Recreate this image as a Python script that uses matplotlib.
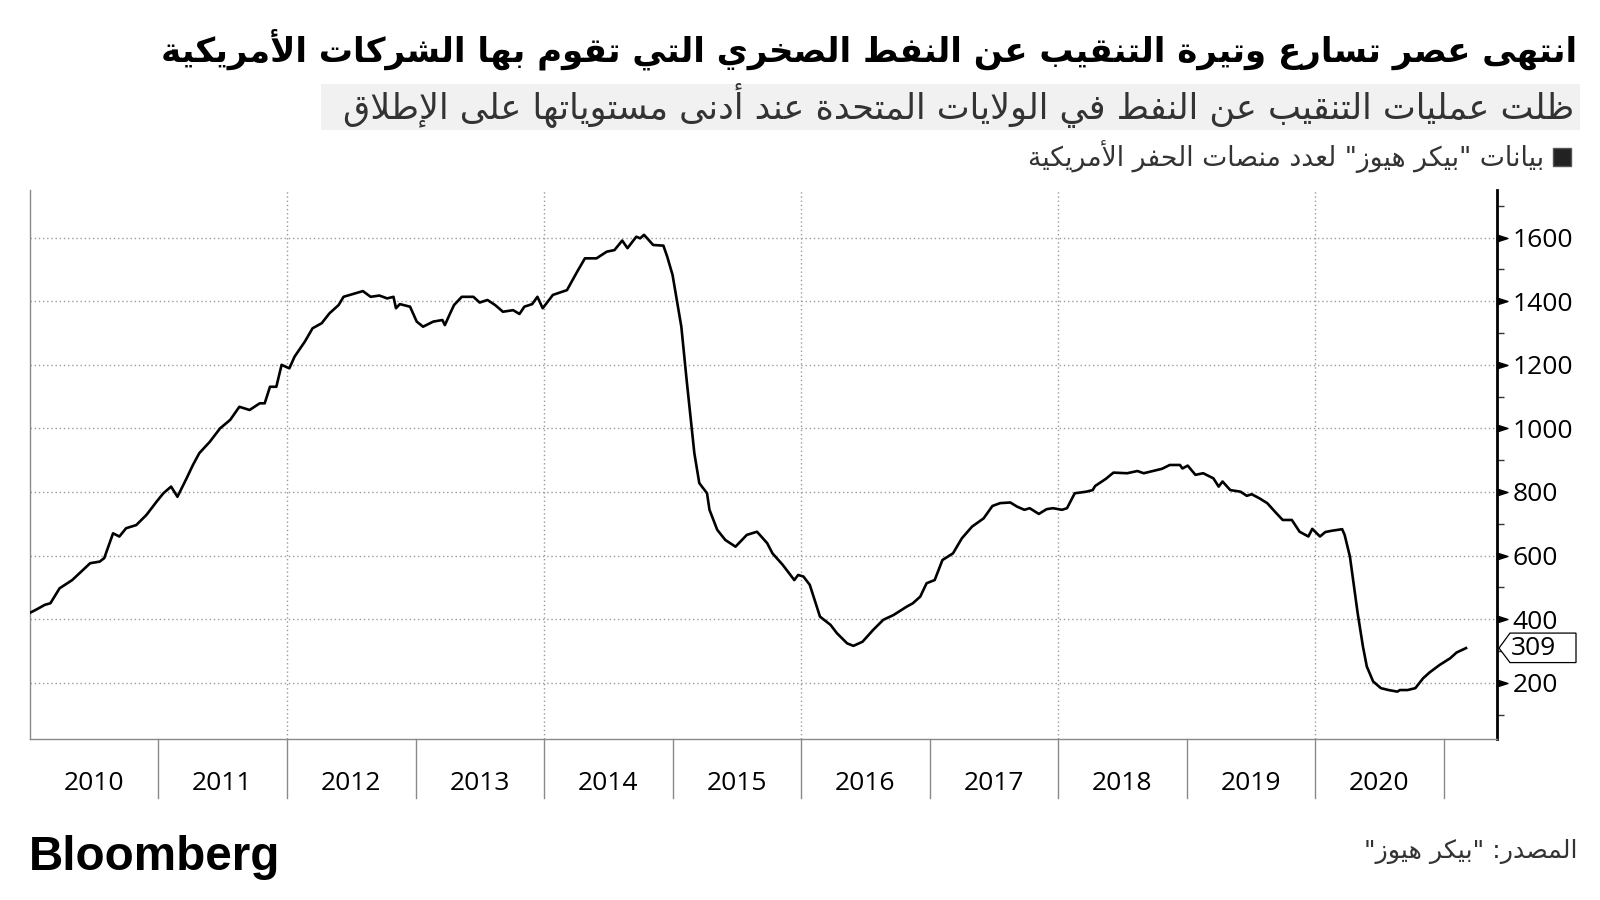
import matplotlib
matplotlib.use("Agg")
import matplotlib.pyplot as plt
import matplotlib.transforms as mtransforms
from matplotlib.patches import Polygon, Rectangle
from matplotlib.path import Path
import pandas as pd

# ---------------- data ----------------
dates = [
    "2010-01-01", "2010-01-22", "2010-02-12", "2010-02-28", "2010-03-26", "2010-05-01", "2010-05-27",
    "2010-06-21", "2010-07-18", "2010-07-31", "2010-08-25", "2010-09-12", "2010-10-01", "2010-10-30",
    "2010-11-28", "2010-12-27", "2011-01-15", "2011-02-06", "2011-02-24", "2011-03-22", "2011-04-09",
    "2011-04-27", "2011-05-27", "2011-06-25", "2011-07-24", "2011-08-19", "2011-09-17", "2011-10-16",
    "2011-10-30", "2011-11-14", "2011-12-02", "2011-12-17", "2012-01-08", "2012-01-23", "2012-02-21",
    "2012-03-14", "2012-04-09", "2012-05-01", "2012-05-27", "2012-06-10", "2012-06-28", "2012-08-04",
    "2012-08-26", "2012-09-20", "2012-10-12", "2012-10-30", "2012-11-06", "2012-11-17", "2012-12-16",
    "2013-01-04", "2013-01-22", "2013-02-20", "2013-03-18", "2013-03-25", "2013-04-09", "2013-04-20",
    "2013-05-12", "2013-06-14", "2013-07-02", "2013-07-24", "2013-08-15", "2013-09-06", "2013-10-05",
    "2013-10-23", "2013-11-06", "2013-11-28", "2013-12-13", "2013-12-28", "2014-01-26", "2014-03-07",
    "2014-04-05", "2014-04-27", "2014-05-30", "2014-06-28", "2014-07-20", "2014-08-11", "2014-08-26",
    "2014-09-20", "2014-10-01", "2014-10-12", "2014-11-07", "2014-12-06", "2014-12-17", "2015-01-01",
    "2015-01-26", "2015-02-10", "2015-02-24", "2015-03-04", "2015-03-18", "2015-04-09", "2015-04-16",
    "2015-05-08", "2015-05-31", "2015-06-29", "2015-07-13", "2015-07-31", "2015-08-29", "2015-09-27",
    "2015-10-12", "2015-11-10", "2015-12-13", "2015-12-24", "2016-01-08", "2016-01-26", "2016-02-24",
    "2016-03-25", "2016-04-12", "2016-05-11", "2016-05-29", "2016-06-24", "2016-07-24", "2016-08-22",
    "2016-09-20", "2016-10-27", "2016-11-14", "2016-12-05", "2016-12-23", "2017-01-15", "2017-02-06",
    "2017-03-08", "2017-04-02", "2017-05-01", "2017-06-03", "2017-06-28", "2017-07-20", "2017-08-18",
    "2017-09-06", "2017-09-27", "2017-10-12", "2017-11-07", "2017-11-29", "2017-12-17", "2018-01-12",
    "2018-01-26", "2018-02-17", "2018-03-22", "2018-04-09", "2018-04-16", "2018-05-16", "2018-06-07",
    "2018-07-16", "2018-08-14", "2018-09-01", "2018-09-27", "2018-10-23", "2018-11-14", "2018-12-13",
    "2018-12-20", "2019-01-04", "2019-01-26", "2019-02-17", "2019-03-18", "2019-04-02", "2019-04-13",
    "2019-05-05", "2019-06-03", "2019-06-21", "2019-07-05", "2019-07-27", "2019-08-18", "2019-09-09",
    "2019-10-01", "2019-10-27", "2019-11-18", "2019-12-13", "2019-12-24", "2020-01-15", "2020-01-30",
    "2020-02-17", "2020-03-18", "2020-03-25", "2020-04-09", "2020-05-01", "2020-05-16", "2020-05-27",
    "2020-06-14", "2020-07-06", "2020-07-28", "2020-08-22", "2020-08-29", "2020-09-20", "2020-10-12",
    "2020-11-03", "2020-11-21", "2020-12-20", "2021-01-19", "2021-02-06", "2021-03-05",
]
rigs = [
    420, 432, 445, 450, 497, 523, 550,
    576, 581, 592, 670, 660, 686, 696,
    728, 770, 796, 817, 785, 843, 885,
    922, 958, 1000, 1027, 1068, 1058, 1079,
    1079, 1131, 1131, 1200, 1189, 1226, 1273,
    1315, 1331, 1362, 1388, 1414, 1420, 1432,
    1414, 1418, 1409, 1414, 1378, 1391, 1383,
    1336, 1320, 1336, 1341, 1325, 1362, 1388,
    1414, 1414, 1396, 1404, 1388, 1367, 1372,
    1360, 1383, 1391, 1414, 1378, 1420, 1435,
    1493, 1535, 1535, 1556, 1561, 1591, 1567,
    1603, 1598, 1609, 1577, 1575, 1540, 1483,
    1320, 1153, 1006, 922, 828, 796, 744,
    681, 649, 628, 644, 665, 675, 639,
    607, 571, 523, 539, 534, 508, 408,
    382, 356, 324, 316, 329, 366, 398,
    413, 439, 450, 471, 513, 523, 586,
    607, 654, 691, 717, 756, 765, 767,
    754, 744, 749, 731, 746, 749, 744,
    749, 796, 801, 806, 819, 841, 861,
    859, 866, 859, 866, 873, 885, 885,
    874, 883, 854, 859, 843, 817, 833,
    806, 801, 788, 793, 780, 765, 738,
    712, 712, 675, 660, 684, 660, 674,
    678, 683, 665, 597, 419, 314, 251,
    204, 183, 177, 172, 177, 177, 183,
    214, 232, 256, 277, 295, 309,
]
years = list(range(2010, 2021))
major_ticks = [200, 400, 600, 800, 1000, 1200, 1400, 1600]
minor_ticks = [100, 300, 500, 700, 900, 1100, 1300, 1500, 1700]

title = "انتهى عصر تسارع وتيرة التنقيب عن النفط الصخري التي تقوم بها الشركات الأمريكية"
subtitle = "ظلت عمليات التنقيب عن النفط في الولايات المتحدة عند أدنى مستوياتها على الإطلاق"
legend_label = 'بيانات "بيكر هيوز" لعدد منصات الحفر الأمريكية'
source = 'المصدر: "بيكر هيوز"'

# ---------------- Arabic shaping (contextual forms + RTL order) ----------------
FORMS = {
    '\u0621': ('\uFE80', None, None, None),
    '\u0622': ('\uFE81', '\uFE82', None, None),
    '\u0623': ('\uFE83', '\uFE84', None, None),
    '\u0624': ('\uFE85', '\uFE86', None, None),
    '\u0625': ('\uFE87', '\uFE88', None, None),
    '\u0626': ('\uFE89', '\uFE8A', '\uFE8B', '\uFE8C'),
    '\u0627': ('\uFE8D', '\uFE8E', None, None),
    '\u0628': ('\uFE8F', '\uFE90', '\uFE91', '\uFE92'),
    '\u0629': ('\uFE93', '\uFE94', None, None),
    '\u062A': ('\uFE95', '\uFE96', '\uFE97', '\uFE98'),
    '\u062B': ('\uFE99', '\uFE9A', '\uFE9B', '\uFE9C'),
    '\u062C': ('\uFE9D', '\uFE9E', '\uFE9F', '\uFEA0'),
    '\u062D': ('\uFEA1', '\uFEA2', '\uFEA3', '\uFEA4'),
    '\u062E': ('\uFEA5', '\uFEA6', '\uFEA7', '\uFEA8'),
    '\u062F': ('\uFEA9', '\uFEAA', None, None),
    '\u0630': ('\uFEAB', '\uFEAC', None, None),
    '\u0631': ('\uFEAD', '\uFEAE', None, None),
    '\u0632': ('\uFEAF', '\uFEB0', None, None),
    '\u0633': ('\uFEB1', '\uFEB2', '\uFEB3', '\uFEB4'),
    '\u0634': ('\uFEB5', '\uFEB6', '\uFEB7', '\uFEB8'),
    '\u0635': ('\uFEB9', '\uFEBA', '\uFEBB', '\uFEBC'),
    '\u0636': ('\uFEBD', '\uFEBE', '\uFEBF', '\uFEC0'),
    '\u0637': ('\uFEC1', '\uFEC2', '\uFEC3', '\uFEC4'),
    '\u0638': ('\uFEC5', '\uFEC6', '\uFEC7', '\uFEC8'),
    '\u0639': ('\uFEC9', '\uFECA', '\uFECB', '\uFECC'),
    '\u063A': ('\uFECD', '\uFECE', '\uFECF', '\uFED0'),
    '\u0641': ('\uFED1', '\uFED2', '\uFED3', '\uFED4'),
    '\u0642': ('\uFED5', '\uFED6', '\uFED7', '\uFED8'),
    '\u0643': ('\uFED9', '\uFEDA', '\uFEDB', '\uFEDC'),
    '\u0644': ('\uFEDD', '\uFEDE', '\uFEDF', '\uFEE0'),
    '\u0645': ('\uFEE1', '\uFEE2', '\uFEE3', '\uFEE4'),
    '\u0646': ('\uFEE5', '\uFEE6', '\uFEE7', '\uFEE8'),
    '\u0647': ('\uFEE9', '\uFEEA', '\uFEEB', '\uFEEC'),
    '\u0648': ('\uFEED', '\uFEEE', None, None),
    '\u0649': ('\uFEEF', '\uFEF0', None, None),
    '\u064A': ('\uFEF1', '\uFEF2', '\uFEF3', '\uFEF4'),
}
LAMALEF = {
    '\u0622': ('\uFEF5', '\uFEF6'),
    '\u0623': ('\uFEF7', '\uFEF8'),
    '\u0625': ('\uFEF9', '\uFEFA'),
    '\u0627': ('\uFEFB', '\uFEFC'),
}


def _joins_next(c):
    return c in FORMS and FORMS[c][2] is not None


def ar(text):
    ch = list(text)
    n = len(ch)
    res = []
    i = 0
    while i < n:
        c = ch[i]
        prev = ch[i - 1] if i > 0 else None
        p = prev is not None and _joins_next(prev)
        if c == '\u0644' and i + 1 < n and ch[i + 1] in LAMALEF:
            iso, fin = LAMALEF[ch[i + 1]]
            res.append(fin if p else iso)
            i += 2
            continue
        if c in FORMS:
            nxt = ch[i + 1] if i + 1 < n else None
            q = _joins_next(c) and nxt is not None and nxt in FORMS
            iso, fin, ini, med = FORMS[c]
            if p and q:
                res.append(med)
            elif p:
                res.append(fin)
            elif q:
                res.append(ini)
            else:
                res.append(iso)
        else:
            res.append(c)
        i += 1
    return ''.join(res)[::-1]


# ---------------- figure ----------------
W, H = 1600, 900
fig = plt.figure(figsize=(16, 9), dpi=100)
fig.patch.set_facecolor("white")


def fx(px):
    return px / W


def fy(py):
    return 1 - py / H


ax_l, ax_r, ax_t, ax_b = 30, 1497, 190, 739
ax = fig.add_axes([fx(ax_l), fy(ax_b), fx(ax_r - ax_l), (ax_b - ax_t) / H])

x = pd.to_datetime(dates)
ax.plot(x, rigs, color="black", lw=1.9, solid_joinstyle="round", zorder=3)

ax.set_xlim(pd.Timestamp("2010-01-01"), pd.Timestamp("2021-06-01"))
ax.set_ylim(23, 1750)

# spines
ax.spines["top"].set_visible(False)
ax.spines["left"].set_color("#8a8a8a")
ax.spines["left"].set_linewidth(1.0)
ax.spines["bottom"].set_color("#8a8a8a")
ax.spines["bottom"].set_linewidth(1.0)
ax.spines["right"].set_color("black")
ax.spines["right"].set_linewidth(2.0)

# y axis on the right
ax.yaxis.tick_right()
ax.set_yticks(major_ticks)
ax.set_yticks(minor_ticks, minor=True)
ax.tick_params(axis="y", which="major", length=0, pad=11, labelsize=19, labelcolor="black")
ax.tick_params(axis="y", which="minor", length=5, width=1, color="#333333", direction="out")
for lab in ax.get_yticklabels():
    lab.set_family("Open Sans")

# horizontal dotted grid
for v in major_ticks:
    ax.axhline(v, color="#9a9a9a", lw=1.0, ls=(0, (1, 2)), zorder=1)

# triangle tick markers
tri = Path([(0, -0.32), (1, 0), (0, 0.32), (0, -0.32)],
           [Path.MOVETO, Path.LINETO, Path.LINETO, Path.CLOSEPOLY])
ax.plot([1] * len(major_ticks), major_ticks, ls="none", marker=tri, ms=15,
        color="black", transform=ax.get_yaxis_transform(), clip_on=False, zorder=5)

# x axis: year separators and labels
ax.set_xticks([])
xt = ax.get_xaxis_transform()
sep_len = (798 - ax_b) / (ax_b - ax_t)
for yr in years + [2021]:
    d = pd.Timestamp(f"{yr}-01-01")
    if yr > 2010:
        ax.plot([d, d], [0, -sep_len], color="#8a8a8a", lw=1.0, transform=xt, clip_on=False)
    if yr in (2012, 2014, 2016, 2018, 2020):
        ax.axvline(d, color="#9a9a9a", lw=1.0, ls=(0, (1, 2)), zorder=1)
lab_y = -(784 - ax_b) / (ax_b - ax_t)
for yr in years:
    mid = pd.Timestamp(f"{yr}-07-02")
    ax.text(mid, lab_y, str(yr), transform=xt, ha="center", va="center",
            fontsize=19, family="Open Sans", color="black")

# last-value label
last_val = rigs[-1]
trans = fig.dpi_scale_trans + mtransforms.ScaledTranslation(1, last_val, ax.get_yaxis_transform())
box = Polygon([(0.02, 0.0), (0.13, 0.15), (0.79, 0.15), (0.79, -0.145), (0.13, -0.145)],
              closed=True, facecolor="white", edgecolor="black", lw=0.9,
              transform=trans, clip_on=False, zorder=6)
ax.add_patch(box)
ax.text(0.36, 0.0, str(last_val), transform=trans, ha="center", va="center",
        fontsize=19, family="Open Sans", color="black", zorder=7)

# ---------------- texts ----------------
fig.text(fx(1577), fy(49), ar(title), ha="right", va="center",
         fontsize=24.5, fontweight="bold", family=["DejaVu Sans"], color="black")

fig.patches.append(Rectangle((fx(321), fy(130)), fx(1580 - 321), (130 - 84) / H,
                             transform=fig.transFigure, facecolor="#f1f1f1",
                             edgecolor="none", zorder=0))
fig.text(fx(1574), fy(106), ar(subtitle), ha="right", va="center",
         fontsize=25.2, family=["DejaVu Sans"], color="#333333")

fig.patches.append(Rectangle((fx(1553), fy(166)), fx(18), 18 / H,
                             transform=fig.transFigure, facecolor="#222222",
                             edgecolor="#555555", lw=1, zorder=1))
fig.text(fx(1544), fy(157), ar(legend_label), ha="right", va="center",
         fontsize=19.2, family=["DejaVu Sans"], color="#333333")

fig.text(fx(1577), fy(852), ar(source), ha="right", va="center",
         fontsize=18.2, family=["DejaVu Sans"], color="#333333")

fig.text(fx(29), fy(858), "Bloomberg", ha="left", va="center",
         fontsize=34.3, fontweight="bold", family=["Liberation Sans"], color="black")

fig.savefig("out.png", dpi=100, facecolor="white")
